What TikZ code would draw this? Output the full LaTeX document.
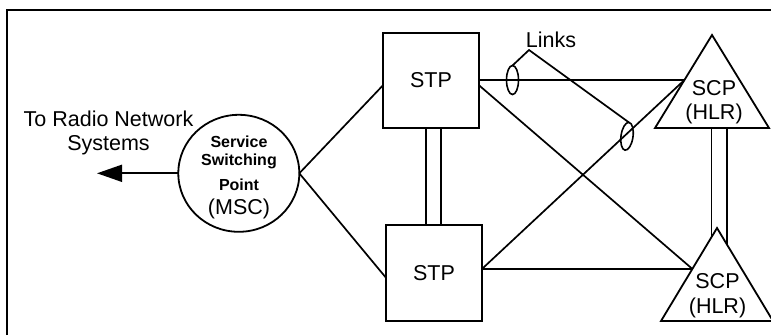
\documentclass[tikz,border=0pt]{standalone}
\usepackage{fontspec}
\setmainfont{Liberation Sans}
\usetikzlibrary{arrows.meta,calc,shapes.geometric}
\begin{document}
\begin{tikzpicture}[x=1bp,y=-1bp,
  every node/.style={inner sep=0pt, outer sep=0pt},
  wire/.style={line width=1.7bp},
  big/.style={font=\fontsize{21.5bp}{24bp}\selectfont},
  stpbox/.style={draw, line width=1.8bp, minimum width=96bp, minimum height=95.5bp, big},
  linkring/.style={ellipse, draw, line width=1.6bp, minimum width=12bp, minimum height=29bp},
]
\useasboundingbox (0,0) rectangle (771,335);

% frame
\draw[line width=2.8bp] (7,335) -- (7,10) -- (771,10);

% service switching point
\node[ellipse, draw, line width=1.8bp, minimum width=121bp, minimum height=117bp] (ssp) at (238.8,173.3) {};
\node[align=center, font=\bfseries\fontsize{16bp}{18bp}\selectfont] (ssptext) at (239,177)
  {Service\\Switching\\[7bp]Point\\[6bp]{\mdseries\fontsize{21.5bp}{24bp}\selectfont (MSC)}};

% outgoing arrow
\coordinate (radio) at (97,173.3);
\draw[wire, -{Triangle[length=25bp,width=17bp]}] (ssp.west) -- (radio);
\node[align=center, font=\fontsize{21.5bp}{23.5bp}\selectfont] (radiotext) at (108.5,133)
  {To Radio Network\\Systems};

% signal transfer points
\node[stpbox] (stp1) at (431,80.5) {STP};
\node[stpbox] (stp2) at (434,273) {STP};

% service control points
\coordinate (scp1a) at (712,35);
\coordinate (scp1l) at (655,128);
\coordinate (scp1r) at (769,128);
\draw[line width=1.8bp] (scp1a) -- (scp1l) -- (scp1r) -- cycle;
\node[align=center, font=\fontsize{21.5bp}{24bp}\selectfont] (scp1) at (714,102.5) {SCP\\(HLR)};

\coordinate (scp2a) at (717,228);
\coordinate (scp2l) at (661,321);
\coordinate (scp2r) at (773,321);
\draw[line width=1.8bp] (scp2a) -- (scp2l) -- (scp2r) -- cycle;
\node[align=center, font=\fontsize{21.5bp}{25.5bp}\selectfont] (scp2) at (717.5,295.5) {SCP\\(HLR)};

% attachment points on the triangles
\coordinate (scp1in) at ($(scp1a)!0.484!(scp1l)$);
\coordinate (scp2in) at ($(scp2a)!0.44!(scp2l)$);
\coordinate (scp2dl) at ($(scp2a)!0.1!(scp2l)$);
\coordinate (scp2dr) at ($(scp2a)!0.18!(scp2r)$);

% links from the switching point
\draw[wire] (ssp.east) -- ($(stp1.north west)!0.55!(stp1.south west)$);
\draw[wire] (ssp.east) -- ($(stp2.north west)!0.55!(stp2.south west)$);

% mated STP pair
\draw[wire] ([xshift=-5bp]stp1.south) -- ([xshift=-5bp]stp1.south |- stp2.north);
\draw[wire] ([xshift=10bp]stp1.south) -- ([xshift=10bp]stp1.south |- stp2.north);

% mated SCP pair
\draw[wire] (scp2dl |- scp1l) -- (scp2dl);
\draw[wire] (scp2dr |- scp1l) -- (scp2dr);

% STP to SCP links
\draw[wire] (stp1.east |- scp1in) -- (scp1in);
\draw[wire] ($(stp1.north east)!0.55!(stp1.south east)$) -- (scp2in);
\draw[wire] (stp2.east |- scp2in) -- (scp2in);
\draw[wire] (stp2.east |- scp2in) -- (scp1in);

% link set markers
\node[linkring] (lk1) at (512.5,80) {};
\node[linkring, rotate=-8, minimum height=28bp] (lk2) at (627,136.3) {};
\node[big] (links) at (551,40) {Links};
\coordinate (lnk) at (529,50);
\draw[wire] (lk1.north) -- (lnk) -- (lk2.north);
\end{tikzpicture}
\end{document}
